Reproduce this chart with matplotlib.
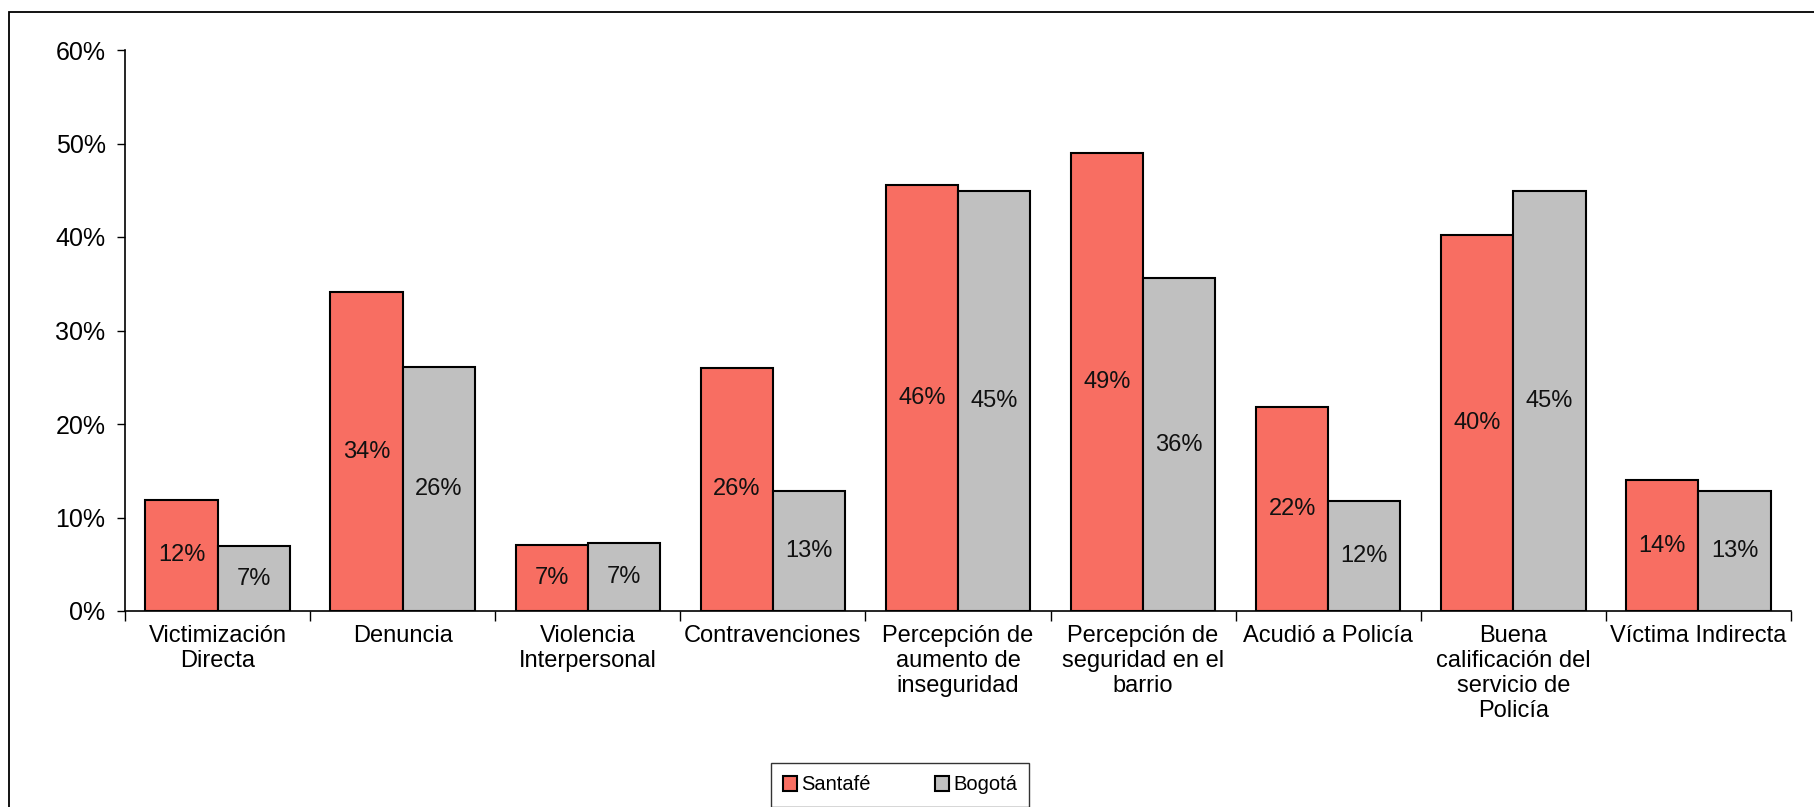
import numpy as np
import matplotlib
matplotlib.use("Agg")
import matplotlib.pyplot as plt
from matplotlib.patches import Rectangle
from matplotlib.ticker import FixedLocator, FuncFormatter

plt.rcParams["font.family"] = ["Liberation Sans", "DejaVu Sans"]

# --- data ---
categories = [
    "Victimización\nDirecta",
    "Denuncia",
    "Violencia\nInterpersonal",
    "Contravenciones",
    "Percepción de\naumento de\ninseguridad",
    "Percepción de\nseguridad en el\nbarrio",
    "Acudió a Policía",
    "Buena\ncalificación del\nservicio de\nPolicía",
    "Víctima Indirecta",
]
santafe = [11.9, 34.1, 7.1, 26.0, 45.6, 49.0, 21.8, 40.2, 14.0]
bogota = [6.9, 26.1, 7.3, 12.8, 44.9, 35.6, 11.8, 44.9, 12.8]
series_names = ["Santafé", "Bogotá"]
colors = ["#F86E62", "#C0C0C0"]

fs = 17

fig = plt.figure(figsize=(18.14, 8.07), dpi=100)
ax = fig.add_axes([125 / 1814, 1 - 611 / 807, (1791 - 125) / 1814, (611 - 50) / 807])

x = np.arange(len(categories))
w = 0.39
b1 = ax.bar(x - w / 2, santafe, w, color=colors[0], edgecolor="black", linewidth=1.5, label=series_names[0])
b2 = ax.bar(x + w / 2, bogota, w, color=colors[1], edgecolor="black", linewidth=1.5, label=series_names[1])

# value labels centred inside each bar
for bars, vals in [(b1, santafe), (b2, bogota)]:
    for r, v in zip(bars, vals):
        ax.text(r.get_x() + r.get_width() / 2, v / 2, f"{round(v):.0f}%",
                ha="center", va="center", fontsize=fs, color="#111111")

ax.set_xlim(-0.5, len(categories) - 0.5)
ax.set_ylim(0, 60)
ax.set_yticks(np.arange(0, 61, 10))
ax.yaxis.set_major_formatter(FuncFormatter(lambda v, p: f"{v:.0f}%"))

# labels at category centres, tick marks between categories
ax.set_xticks(x)
ax.set_xticklabels(categories, fontsize=fs, linespacing=1.17, va="top")
ax.xaxis.set_minor_locator(FixedLocator(np.arange(-0.5, len(categories), 1.0)))
ax.tick_params(axis="x", which="major", length=0, pad=10)
ax.tick_params(axis="x", which="minor", length=7, width=1, direction="out")
ax.tick_params(axis="y", length=6, width=1, direction="out", labelsize=18, pad=8)

for s in ["top", "right"]:
    ax.spines[s].set_visible(False)
for s in ["left", "bottom"]:
    ax.spines[s].set_linewidth(1.2)

# chart area border (runs off the right and bottom edges)
fig.add_artist(Rectangle((9 / 1814, -0.2), 1.2, 1.2 - 12 / 807,
                         transform=fig.transFigure, fill=False,
                         edgecolor="black", linewidth=1.3))

leg = fig.legend(handles=[b1, b2], labels=series_names, loc="center",
                 bbox_to_anchor=(900 / 1814, 1 - 785 / 807), ncol=2,
                 fontsize=14.5, frameon=True, fancybox=False, edgecolor="black",
                 handlelength=0.7, handleheight=0.7, handletextpad=0.2,
                 columnspacing=3.2, borderpad=0.6, borderaxespad=0)
leg.get_frame().set_linewidth(1.0)

fig.savefig("out.png", dpi=100)
